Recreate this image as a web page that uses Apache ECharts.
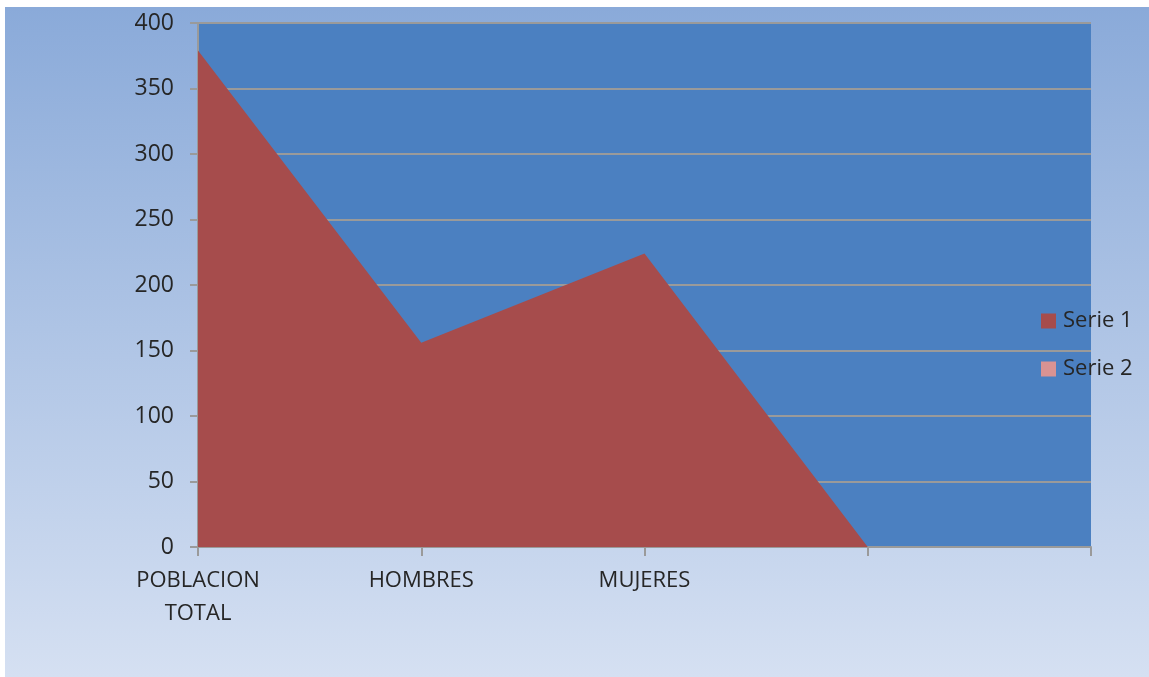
<!DOCTYPE html>
<html>
<head>
<meta charset="utf-8">
<script src="https://cdn.jsdelivr.net/npm/echarts@6/dist/echarts.min.js"></script>
<style>
html,body{margin:0;padding:0;background:#ffffff;width:1149px;height:677px;overflow:hidden;}
#c{position:absolute;left:5px;top:7px;width:1144px;height:670px;}
</style>
</head>
<body>
<div id="c"></div>
<script>
const categories = ['POBLACION\nTOTAL', 'HOMBRES', 'MUJERES', '', ''];
const serie1 = [379, 156, 224, 0, null];
const serie2 = [];
const yTicks = { min: 0, max: 400, interval: 50 };

const chart = echarts.init(document.getElementById('c'));
const font = '"Open Sans", "Liberation Sans", sans-serif';
chart.setOption({
  animation: false,
  backgroundColor: {
    type: 'linear', x: 0, y: 0, x2: 0, y2: 1,
    colorStops: [{ offset: 0, color: '#8aaad9' }, { offset: 1, color: '#d5e0f2' }]
  },
  grid: { left: 193, top: 16, right: 58, bottom: 130, show: true, backgroundColor: '#4b80c1', borderWidth: 0 },
  legend: {
    orient: 'vertical', left: 1031, top: 297,
    itemWidth: 15, itemHeight: 15, itemGap: 24,
    icon: 'rect',
    textStyle: { fontFamily: font, fontSize: 22, lineHeight: 24, color: '#262626', padding: [0, 0, 0, 2] },
    data: ['Serie 1', 'Serie 2']
  },
  xAxis: {
    type: 'category', data: categories, boundaryGap: false,
    axisLine: { lineStyle: { color: '#9a9a9a', width: 2 } },
    axisTick: { show: true, length: 9, interval: 0, lineStyle: { color: '#9a9a9a', width: 2 } },
    axisLabel: { interval: 0, margin: 17, fontFamily: font, fontSize: 22, color: '#262626', lineHeight: 33, align: 'center' },
    splitLine: { show: false }
  },
  yAxis: {
    type: 'value', min: yTicks.min, max: yTicks.max, interval: yTicks.interval,
    axisLine: { show: true, lineStyle: { color: '#9a9a9a', width: 2 } },
    axisTick: { show: true, length: 8, lineStyle: { color: '#9a9a9a', width: 2 } },
    axisLabel: { margin: 24, fontFamily: font, fontSize: 23, color: '#262626' },
    splitLine: { show: true, lineStyle: { color: '#9a9a9a', width: 2 } }
  },
  series: [
    {
      name: 'Serie 1', type: 'line', data: serie1, showSymbol: false, symbol: 'none',
      itemStyle: { color: '#a64c4c' },
      lineStyle: { width: 0 },
      areaStyle: { color: '#a64c4c', opacity: 1 },
      z: 3
    },
    {
      name: 'Serie 2', type: 'line', data: serie2, showSymbol: false, symbol: 'none',
      itemStyle: { color: '#d99393' },
      lineStyle: { width: 0 },
      areaStyle: { color: '#d99393', opacity: 1 }
    }
  ]
});
</script>
</body>
</html>
